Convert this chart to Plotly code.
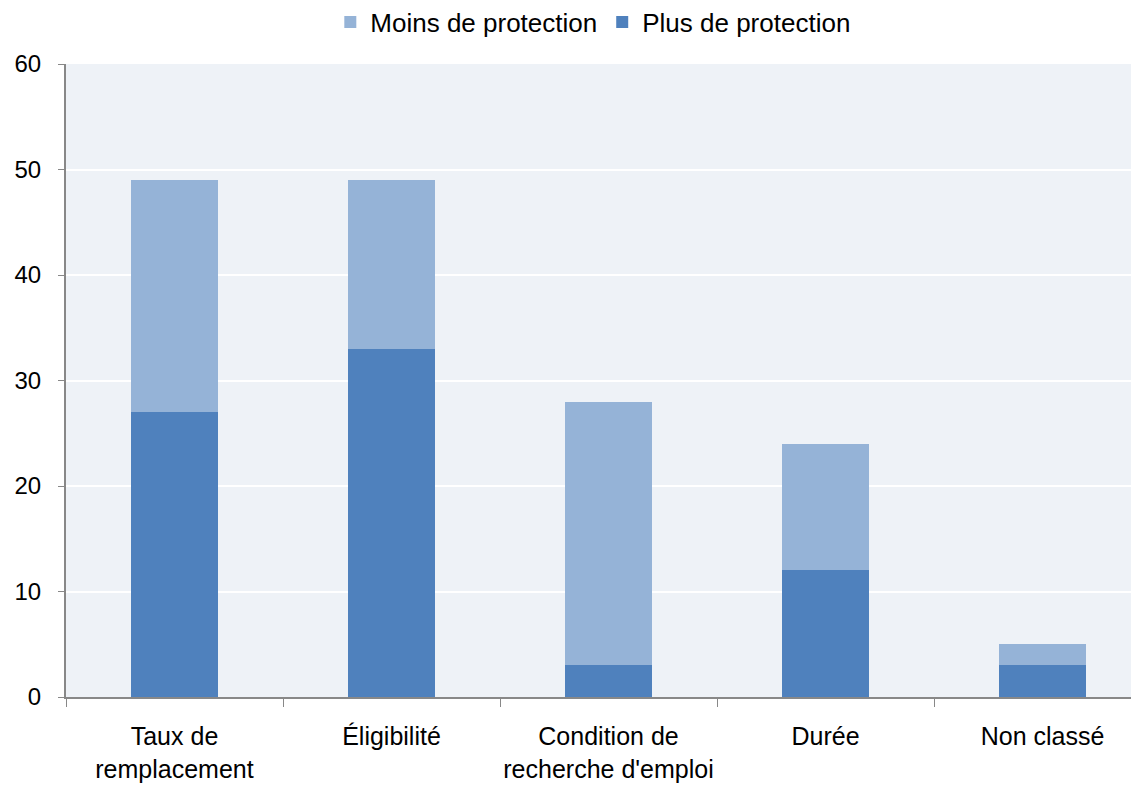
import plotly.graph_objects as go

categories = ["Taux de<br>remplacement", "Éligibilité", "Condition de<br>recherche d'emploi", "Durée", "Non classé"]
plus_protection = [27, 33, 3, 12, 3]
moins_protection = [22, 16, 25, 12, 2]

FONT = "Liberation Sans, Arial, sans-serif"

fig = go.Figure()
fig.add_trace(go.Bar(
    name="Plus de protection", x=categories, y=plus_protection,
    marker=dict(color="#4F81BD", line=dict(width=0)),
))
fig.add_trace(go.Bar(
    name="Moins de protection", x=categories, y=moins_protection,
    marker=dict(color="#95B3D7", line=dict(width=0)),
))

# page body adds an 8px offset; the plot area runs slightly past the right edge like the original
fig.update_layout(
    width=1143, height=782,
    barmode="stack",
    bargap=0.6,
    paper_bgcolor="white",
    plot_bgcolor="#EEF2F7",
    font=dict(family=FONT, size=24, color="black"),
    margin=dict(l=58, r=0, t=56, b=93, autoexpand=False),
    legend=dict(
        orientation="h", x=0.486, xanchor="center",
        yref="container", y=0.982, yanchor="middle",
        traceorder="reversed", font=dict(size=26),
        itemwidth=30,
    ),
    showlegend=True,
)
fig.update_xaxes(
    automargin=False,
    showline=True, linecolor="#888888", linewidth=2,
    ticks="outside", tickson="boundaries", ticklen=8, tickcolor="#888888",
    ticklabelstandoff=16, tickangle=0, tickfont=dict(size=25),
    showgrid=False,
)
fig.update_yaxes(
    automargin=False,
    range=[0, 60], dtick=10,
    showline=True, linecolor="#888888", linewidth=2,
    ticks="outside", ticklen=6, tickcolor="#888888",
    ticklabelstandoff=12,
    showgrid=True, gridcolor="white", gridwidth=2,
    zeroline=False,
)

fig.write_html("out.html")
